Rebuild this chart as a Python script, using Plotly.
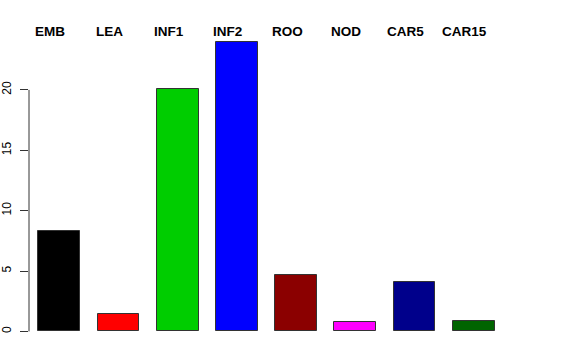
import plotly.graph_objects as go

categories = ["EMB", "LEA", "INF1", "INF2", "ROO", "NOD", "CAR5", "CAR15"]
values = [8.35, 1.44, 20.08, 23.93, 4.67, 0.80, 4.12, 0.89]
colors = ["#000000", "#FF0000", "#00CD00", "#0000FF", "#8B0000", "#FF00FF", "#00008B", "#006400"]
y_ticks = [0, 5, 10, 15, 20]

positions = list(range(1, len(categories) + 1))

fig = go.Figure()
fig.add_trace(go.Bar(
    x=positions, y=values, width=0.708,
    marker=dict(color=colors, line=dict(color="#333333", width=1)),
    hoverinfo="skip",
))

for p, c in zip(positions, categories):
    fig.add_annotation(x=p, y=1, xref="x", yref="paper", text="<b>" + c + "</b>",
                       showarrow=False, xanchor="center", yanchor="middle",
                       xshift=-9, yshift=-1,
                       font=dict(family="Liberation Sans, Arial, sans-serif", size=13.5, color="black"))

# R-style y axis line spanning only the tick range
fig.add_shape(type="line", xref="paper", yref="y", x0=0, x1=0,
              y0=min(y_ticks), y1=max(y_ticks), line=dict(color="#333333", width=1))

fig.update_layout(
    width=576, height=360,
    margin=dict(l=29, r=72, t=30, b=17),
    paper_bgcolor="white", plot_bgcolor="white",
    showlegend=False,
    bargap=0,
    xaxis=dict(range=[0.489, 8.511], visible=False, showgrid=False, zeroline=False,
               automargin=False),
    yaxis=dict(range=[-0.96, 24.96], tickvals=y_ticks, ticktext=[str(t) for t in y_ticks],
               ticks="outside", ticklen=8, tickcolor="#333333", tickwidth=1,
               tickangle=-90, showgrid=False, zeroline=False, showline=False,
               ticklabelstandoff=4, automargin=False,
               tickfont=dict(family="Liberation Sans, Arial, sans-serif", size=12, color="black")),
)

fig.write_html("out.html")
